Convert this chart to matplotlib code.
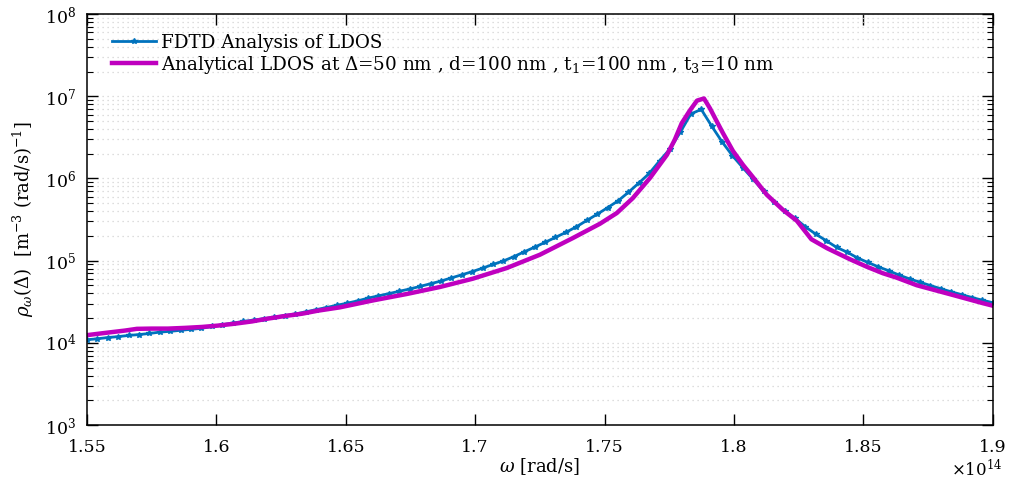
import numpy as np
import matplotlib.pyplot as plt
from matplotlib.ticker import FixedLocator, LogLocator, FuncFormatter, NullFormatter

# frequency grid of the FDTD run (units of 1e14 rad/s), 88 evenly spaced samples
w_fdtd = np.linspace(1.55, 1.9, 88)
ldos_fdtd = [
    1.09e4, 1.12e4, 1.16e4, 1.19e4, 1.23e4, 1.26e4, 1.30e4, 1.35e4, 1.38e4, 1.42e4,
    1.46e4, 1.50e4, 1.58e4, 1.66e4, 1.74e4, 1.82e4, 1.89e4, 1.97e4, 2.05e4, 2.15e4,
    2.24e4, 2.38e4, 2.53e4, 2.69e4, 2.86e4, 3.04e4, 3.24e4, 3.50e4, 3.73e4, 3.97e4,
    4.24e4, 4.52e4, 4.86e4, 5.24e4, 5.64e4, 6.17e4, 6.72e4, 7.35e4, 8.11e4, 8.99e4,
    9.91e4, 1.12e5, 1.28e5, 1.46e5, 1.67e5, 1.92e5, 2.21e5, 2.58e5, 3.08e5, 3.67e5,
    4.41e5, 5.33e5, 6.78e5, 8.79e5, 1.15e6, 1.64e6, 2.29e6, 3.68e6, 6.10e6, 6.92e6,
    4.34e6, 2.79e6, 1.89e6, 1.35e6, 9.72e5, 6.95e5, 5.21e5, 4.02e5, 3.28e5, 2.58e5,
    2.10e5, 1.75e5, 1.45e5, 1.27e5, 1.08e5, 9.51e4, 8.41e4, 7.54e4, 6.67e4, 6.00e4,
    5.47e4, 4.98e4, 4.56e4, 4.18e4, 3.86e4, 3.56e4, 3.30e4, 3.08e4,
]

# analytical curve
w_an = [
    1.550, 1.557, 1.5647, 1.5693, 1.5751, 1.5813, 1.5879, 1.5944, 1.6006, 1.6072,
    1.6137, 1.6199, 1.6265, 1.6331, 1.6392, 1.6477, 1.6605, 1.6736, 1.6864, 1.6991,
    1.7122, 1.7250, 1.7377, 1.7482, 1.7547, 1.7609, 1.7675, 1.7741, 1.7771, 1.7798,
    1.7829, 1.7857, 1.7884, 1.7907, 1.7934, 1.7957, 1.7996, 1.8035, 1.8073, 1.8127,
    1.8189, 1.8243, 1.8299, 1.8359, 1.8448, 1.8513, 1.8575, 1.8629, 1.8706, 1.8834,
    1.8961, 1.900,
]
ldos_an = [
    1.24e4, 1.32e4, 1.41e4, 1.48e4, 1.49e4, 1.49e4, 1.52e4, 1.56e4, 1.62e4, 1.71e4,
    1.82e4, 1.97e4, 2.12e4, 2.26e4, 2.46e4, 2.70e4, 3.28e4, 3.93e4, 4.78e4, 6.03e4,
    8.13e4, 1.18e5, 1.88e5, 2.81e5, 3.79e5, 5.76e5, 1.01e6, 1.94e6, 2.95e6, 4.70e6,
    6.68e6, 8.85e6, 9.40e6, 7.15e6, 4.91e6, 3.58e6, 2.16e6, 1.46e6, 1.04e6, 6.32e5,
    4.15e5, 3.05e5, 1.82e5, 1.42e5, 1.04e5, 8.43e4, 7.03e4, 6.20e4, 5.02e4, 3.91e4,
    3.04e4, 2.83e4,
]

x_ticks = [1.55, 1.6, 1.65, 1.7, 1.75, 1.8, 1.85, 1.9]

plt.rcParams['font.family'] = 'DejaVu Serif'
plt.rcParams['mathtext.fontset'] = 'dejavuserif'

fig = plt.figure(figsize=(10.11, 4.86), dpi=100)
ax = fig.add_axes([0.086, 0.1255, 0.896, 0.8455])

ax.plot(w_fdtd, ldos_fdtd, color='#0072BD', lw=2, marker='*', ms=4,
        label='FDTD Analysis of LDOS')
ax.plot(w_an, ldos_an, color='#BF00BF', lw=3.2,
        label=r'Analytical LDOS at $\Delta$=50 nm , d=100 nm , t$_1$=100 nm , t$_3$=10 nm')

ax.set_yscale('log')
ax.set_xlim(1.55, 1.9)
ax.set_ylim(1e3, 1e8)
ax.xaxis.set_major_locator(FixedLocator(x_ticks))
ax.xaxis.set_major_formatter(FuncFormatter(lambda v, p: '%g' % v))
ax.yaxis.set_major_locator(LogLocator(base=10, numticks=10))
ax.yaxis.set_minor_locator(LogLocator(base=10, subs=np.arange(2, 10), numticks=10))
ax.yaxis.set_minor_formatter(NullFormatter())

ax.tick_params(which='both', direction='in', top=True, right=True, labelsize=12.5)
ax.tick_params(which='major', length=8, width=1)
ax.tick_params(which='minor', length=4, width=0.8)
ax.tick_params(axis='x', which='major', pad=10)
ax.tick_params(axis='y', which='major', pad=8)
for s in ax.spines.values():
    s.set_linewidth(1.1)

ax.grid(True, which='both', axis='y', color='#d2d2d2', linestyle=(0, (1, 3)), linewidth=0.9)

ax.set_xlabel(r'$\omega$ [rad/s]', fontsize=13, labelpad=0)
ax.set_ylabel(r'$\rho_\omega(\Delta)$  [m$^{-3}$ (rad/s)$^{-1}$]', fontsize=13, labelpad=6)
ax.text(1.011, -0.083, r'$\times10^{14}$', transform=ax.transAxes, ha='right', va='top',
        fontsize=12)

ax.legend(loc='upper left', frameon=False, fontsize=13.2, handlelength=2.4,
          handletextpad=0.25, labelspacing=0.1, borderaxespad=0.0,
          bbox_to_anchor=(0.02, 0.97))

fig.savefig('out.png', dpi=100)
